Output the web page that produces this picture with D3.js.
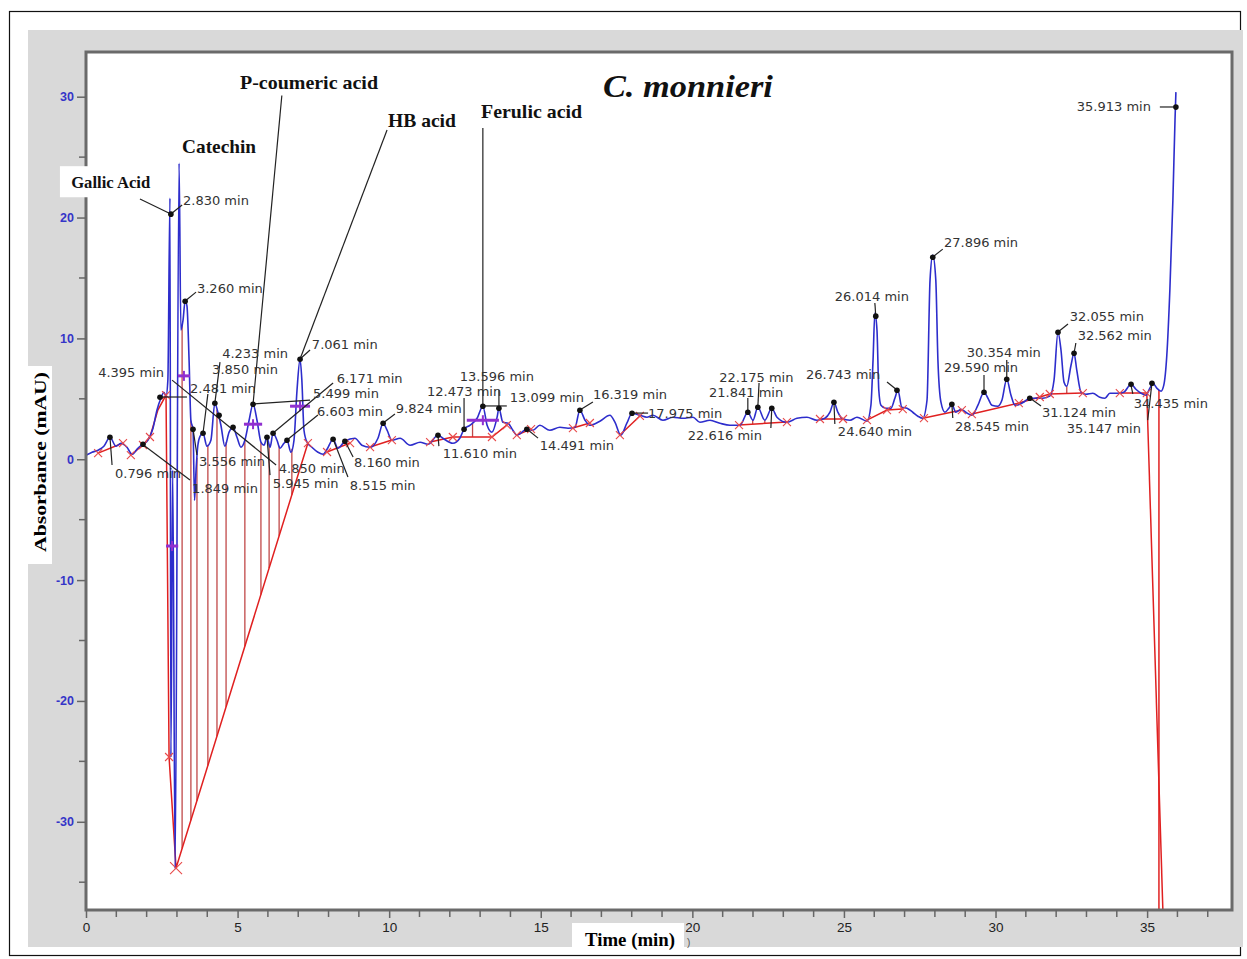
<!DOCTYPE html>
<html><head><meta charset="utf-8">
<script src="https://cdnjs.cloudflare.com/ajax/libs/d3/7.8.5/d3.min.js"></script>
<style>body{margin:0;background:#fff}svg{display:block}</style>
</head><body>
<svg id="chart" width="1247" height="959"></svg>
<script>
// ---------- DATA ----------
const traceTime = [0.00,0.20,0.40,0.59,0.79,0.99,1.15,1.35,1.52,1.71,1.88,2.04,2.21,2.34,2.47,2.57,2.64,2.70,2.77,2.80,2.86,2.94,3.07,3.13,3.20,3.27,3.33,3.40,3.46,3.53,3.58,3.63,3.69,3.76,3.86,3.99,4.12,4.25,4.35,4.45,4.58,4.72,4.85,4.98,5.11,5.24,5.38,5.51,5.64,5.77,5.87,5.97,6.07,6.17,6.30,6.40,6.53,6.63,6.76,6.86,6.96,7.06,7.12,7.19,7.29,7.45,7.65,7.82,7.95,8.15,8.31,8.54,8.87,9.10,9.37,9.63,9.80,9.93,10.09,10.36,10.69,11.02,11.28,11.61,11.77,12.10,12.33,12.47,12.66,12.90,13.09,13.23,13.39,13.56,13.62,13.75,13.92,14.08,14.21,14.54,14.74,14.97,15.30,15.63,15.90,16.13,16.29,16.46,16.62,16.95,17.28,17.45,17.64,17.84,18.01,18.27,18.50,18.70,19.03,19.36,19.69,20.02,20.25,20.58,20.91,21.24,21.57,21.83,22.00,22.16,22.39,22.62,22.79,23.12,23.45,23.78,24.11,24.37,24.54,24.67,24.80,24.93,25.20,25.43,25.76,25.89,25.96,26.02,26.09,26.15,26.22,26.38,26.55,26.68,26.78,26.91,27.08,27.27,27.44,27.60,27.74,27.84,27.93,28.03,28.10,28.20,28.33,28.46,28.56,28.69,28.86,29.02,29.22,29.42,29.62,29.75,29.88,30.08,30.21,30.37,30.51,30.64,30.80,30.97,31.13,31.36,31.56,31.79,31.93,32.06,32.16,32.26,32.35,32.49,32.59,32.68,32.82,32.98,33.21,33.44,33.61,33.77,34.00,34.23,34.47,34.63,34.80,34.96,35.09,35.19,35.32,35.46,35.55,35.65,35.75,35.85,35.92,35.95];
const traceAbs = [0.33,0.58,0.75,1.08,1.82,1.08,1.32,0.99,0.41,0.91,1.24,1.57,2.57,4.06,5.05,5.55,5.22,6.54,21.61,-24.67,-0.9,-33.9,24.5,10.7,11.5,13.1,12.7,8.2,3.2,2.5,-3.4,-0.9,1.16,1.9,2.15,1.08,1.57,4.64,3.89,2.81,1.08,2.24,2.65,1.82,0.99,1.57,3.23,4.55,3.23,1.41,1.16,1.82,0.99,2.15,1.57,0.91,1.32,1.57,0.58,1.57,5.71,8.28,6.54,2.40,1.41,0.99,0.58,0.41,0.83,1.66,0.91,1.49,1.74,1.16,0.99,1.74,2.98,2.40,1.57,1.74,1.16,1.41,1.24,1.99,1.74,1.32,1.74,2.48,2.81,3.39,4.39,2.81,2.24,3.48,4.22,3.06,2.98,2.40,1.99,2.48,2.40,2.81,2.40,2.65,2.57,2.65,4.06,3.23,2.81,3.15,3.64,3.06,1.99,2.98,3.81,3.64,3.48,3.64,3.23,3.48,3.39,3.48,3.06,3.23,2.98,2.81,2.81,3.89,3.23,4.30,3.23,4.22,3.48,3.06,3.39,3.48,3.23,3.39,3.89,4.72,3.89,3.39,3.23,3.48,3.15,4.47,8.20,12.09,10.68,5.71,4.47,4.22,4.22,5.05,5.71,4.30,4.22,3.89,3.56,3.39,4.88,14.82,16.89,14.82,8.20,4.72,3.89,4.22,4.55,3.89,4.14,3.89,3.64,4.47,5.55,5.05,4.47,4.39,4.88,6.62,5.30,4.47,4.55,4.80,5.05,5.05,5.05,5.22,6.54,10.51,9.02,6.37,6.04,7.78,8.77,7.37,5.55,5.38,5.46,5.13,5.05,5.46,5.46,5.55,6.21,5.79,5.46,5.30,5.88,6.29,5.88,5.63,6.13,8.61,13.99,21.44,28.06,30.38];

// peak apex markers (time, absorbance)
const peakTime = [0.79,1.88,2.44,2.80,3.27,3.53,3.86,4.25,4.39,4.85,5.51,5.97,6.17,6.63,7.06,8.15,8.54,9.80,11.61,12.47,13.09,13.62,14.54,16.29,18.01,21.83,22.16,22.62,24.67,26.05,26.75,27.93,28.56,29.62,30.37,31.13,32.06,32.59,34.47,35.16,35.95];
const peakAbs  = [1.82,1.24,5.13,20.28,13.08,2.48,2.15,4.64,3.64,2.65,4.55,1.82,2.15,1.57,8.28,1.66,1.49,2.98,1.99,2.48,4.39,4.22,2.48,4.06,3.81,3.89,4.30,4.22,4.72,11.84,5.71,16.72,4.55,5.55,6.62,5.05,10.51,8.77,6.21,6.29,29.14];

// retention-time labels: text, label anchor (time, absorbance)
const rtText = ["2.830 min","3.260 min","4.233 min","3.850 min","4.395 min","2.481 min","7.061 min","6.171 min","5.499 min","6.603 min","9.824 min","0.796 min","1.849 min","3.556 min","4.850 min","5.945 min","8.160 min","8.515 min","13.596 min","12.473 min","13.099 min","16.319 min","11.610 min","14.491 min","17.975 min","22.175 min","21.841 min","22.616 min","26.743 min","24.640 min","26.014 min","27.896 min","30.354 min","29.590 min","28.545 min","32.055 min","32.562 min","31.124 min","35.147 min","34.435 min","35.913 min"];
const rtAnchorT = [3.20,3.66,4.49,4.16,0.40,3.43,7.45,8.27,7.49,7.62,10.22,0.96,3.50,3.73,6.36,6.16,8.84,8.70,12.33,11.25,13.98,16.72,11.77,14.97,18.54,20.89,20.55,19.85,23.75,24.80,24.70,28.30,29.05,28.30,28.66,32.45,32.71,31.53,32.35,34.56,32.68];
const rtAnchorV = [21.04,13.75,8.37,7.05,6.80,5.48,9.12,6.31,5.07,3.58,3.83,-1.55,-2.79,-0.56,-1.14,-2.38,-0.64,-2.55,6.47,5.23,4.73,4.98,0.10,0.76,3.41,6.39,5.15,1.59,6.64,1.92,13.09,17.56,8.46,7.22,2.33,11.44,9.86,3.50,2.17,4.23,28.81];

// leader lines [t1, v1, t2, v2]
const leaders = [
  [1.78,21.54,2.80,20.29],[2.80,20.29,3.17,21.04],[3.27,13.09,3.63,13.83],
  [6.46,30.10,5.51,4.57],[9.93,27.24,7.06,8.29],[13.09,27.41,13.09,4.41],
  [2.44,5.15,3.33,5.15],[2.84,6.55,6.27,-0.48],[1.85,1.26,3.43,-1.72],
  [0.79,1.84,0.86,-0.48],[4.25,4.65,4.42,8.04],[3.86,2.17,4.02,5.40],
  [3.53,2.50,3.66,0.35],[5.51,4.57,7.39,4.90],[6.17,2.17,8.15,6.31],
  [6.63,1.59,7.65,3.66],[7.06,8.29,7.39,9.04],[5.97,1.84,6.07,-1.31],
  [8.15,1.67,8.64,-1.47],[8.54,1.51,8.81,0.18],[9.80,3.00,10.19,3.74],
  [12.47,2.50,12.47,5.07],[13.09,4.41,13.88,4.41],[13.62,4.24,13.62,5.73],
  [11.61,2.00,11.64,1.09],[14.54,2.50,14.91,1.75],[16.29,4.07,16.72,4.73],
  [18.01,3.82,18.54,3.82],[21.83,3.91,21.83,5.07],[22.16,4.32,22.20,6.31],
  [22.62,4.24,22.59,2.58],[24.67,4.73,24.70,2.92],[26.75,5.73,26.42,6.39],
  [26.05,11.85,26.02,12.93],[27.93,16.74,28.26,17.39],[28.56,4.57,28.59,3.41],
  [29.62,5.56,29.62,6.97],[30.37,6.64,30.37,8.21],[31.13,5.07,31.50,4.40],
  [32.06,10.53,32.39,11.19],[32.59,8.79,32.65,9.62],[34.46,6.22,34.53,5.40],
  [35.16,6.31,35.02,3.24],[35.42,29.15,35.95,29.15]
];

// integration baselines (each a polyline of [time, absorbance])
const baselines = [
  [[0.40,0.51],[1.22,1.34]],
  [[1.48,0.35],[1.88,1.18],[2.11,1.84],[2.37,4.07],[2.64,5.31]],
  [[2.64,5.31],[2.74,-24.64],[2.97,-33.83],[7.32,1.34]],
  [[7.95,0.60],[8.71,1.34]],
  [[9.37,1.01],[10.09,1.59]],
  [[11.35,1.42],[12.10,1.84],[13.39,1.84],[13.88,2.83]],
  [[14.21,2.00],[14.68,2.50]],
  [[16.06,2.58],[16.62,3.00]],
  [[17.61,2.00],[18.27,3.58]],
  [[21.54,2.83],[23.12,3.08]],
  [[24.21,3.33],[24.97,3.33]],
  [[25.76,3.24],[26.42,4.07],[26.94,4.15]],
  [[27.64,3.41],[28.89,4.07]],
  [[29.22,3.74],[30.77,4.65],[31.46,5.15],[31.79,5.40],[32.88,5.48]],
  [[34.10,5.48],[34.99,5.48]],
  [[34.99,5.48],[35.52,-37.3]],
  [[35.39,5.73],[35.39,-37.3]]
];
// baseline markers (x)
const markT = [0.40,1.22,1.48,1.88,2.11,2.64,2.74,2.97,7.32,7.95,8.71,9.37,10.09,11.35,12.10,13.39,13.88,14.21,14.68,16.06,16.62,17.61,18.27,21.54,23.12,24.21,24.97,25.76,26.42,26.94,27.64,28.89,29.22,30.77,31.46,31.79,32.88,34.10,34.99];
const markV = [0.51,1.34,0.35,1.18,1.84,5.31,-24.64,-33.83,1.34,0.60,1.34,1.01,1.59,1.42,1.84,1.84,2.83,2.00,2.50,2.58,3.00,2.00,3.58,2.83,3.08,3.33,3.33,3.24,4.07,4.15,3.41,4.07,3.74,4.65,5.15,5.40,5.48,5.48,5.48];
// peak split drop lines (time, index of baseline polyline)
const dropT = [3.17,3.46,3.66,4.02,4.32,4.62,5.24,5.77,6.04,6.37,6.79,12.75,21.99,22.39,32.35];
const dropBase = [2,2,2,2,2,2,2,2,2,2,2,5,9,9,13];
// purple retention-window markers (time, absorbance, half width in min)
const winT = [3.23,2.84,5.51,7.06,13.09];
const winV = [6.90,-7.18,2.90,4.39,3.23];
const winHalf = [0.2,0.2,0.3,0.33,0.53];

// compound annotations
const compText = ["Gallic Acid","Catechin","P-coumeric  acid","HB acid","Ferulic  acid"];
const compT = [-0.49,3.17,5.08,9.96,13.03];
const compV = [22.44,25.35,30.63,27.49,28.24];
const compLen = [79,74,138,68,101];

const xTicks = [0,5,10,15,20,25,30,35];
const yTicks = [-30,-20,-10,0,10,20,30];

// ---------- LAYOUT ----------
const svg = d3.select("#chart");
const L = 86, R = 1232, T = 52, B = 910;
const x = d3.scaleLinear().domain([0, 37.8]).range([L, R]);
const y = d3.scaleLinear().domain([-37.3, 33.7]).range([B, T]);
const fmt = d => String(d);   // plain hyphen minus, as in the original software

// outer frame & grey panel
svg.append("rect").attr("x",9.5).attr("y",11.5).attr("width",1231).attr("height",944)
  .attr("fill","#fff").attr("stroke","#111").attr("stroke-width",1.2);
svg.append("rect").attr("x",28).attr("y",30).attr("width",1215).attr("height",917).attr("fill","#d9d9d9");
svg.append("rect").attr("x",L).attr("y",T).attr("width",R-L).attr("height",B-T).attr("fill","#fff");

const plot = svg.append("g");
plot.append("clipPath").attr("id","clip").append("rect").attr("x",L).attr("y",T).attr("width",R-L).attr("height",B-T);
const g = plot.append("g").attr("clip-path","url(#clip)");

// drop lines
const interp = (ts, vs, t) => {
  const i = d3.bisectLeft(ts, t);
  if (i <= 0) return vs[0];
  if (i >= ts.length) return vs[vs.length-1];
  const f = (t - ts[i-1]) / (ts[i] - ts[i-1]);
  return vs[i-1] + f * (vs[i] - vs[i-1]);
};
dropT.forEach((t,k) => {
  const bl = baselines[dropBase[k]];
  const bv = interp(bl.map(d=>d[0]), bl.map(d=>d[1]), t);
  const tv = interp(traceTime, traceAbs, t);
  g.append("line").attr("x1",x(t)).attr("x2",x(t)).attr("y1",y(tv)).attr("y2",y(bv))
    .attr("stroke","#c04848").attr("stroke-width",1.3);
});

// baselines
const bline = d3.line().x(d=>x(d[0])).y(d=>y(d[1]));
baselines.forEach(b => g.append("path").attr("d", bline(b)).attr("fill","none")
  .attr("stroke","#e02020").attr("stroke-width",1.5));

// trace
const tr = traceTime.map((t,i)=>[t, traceAbs[i]]);
g.append("path").attr("d", d3.line().x(d=>x(d[0])).y(d=>y(d[1])).curve(d3.curveMonotoneX)(tr))
  .attr("fill","none").attr("stroke","#2d2dcc").attr("stroke-width",1.6).attr("stroke-linejoin","round");

// baseline x marks
markT.forEach((t,i)=>{
  const cx = x(t), cy = y(markV[i]), s = (i===7)?6:4;
  g.append("path").attr("d",`M${cx-s},${cy-s}L${cx+s},${cy+s}M${cx-s},${cy+s}L${cx+s},${cy-s}`)
    .attr("stroke","#e84a4a").attr("stroke-width",1.1);
});

// purple windows
winT.forEach((t,i)=>{
  const cy = y(winV[i]);
  g.append("line").attr("x1",x(t-winHalf[i])).attr("x2",x(t+winHalf[i])).attr("y1",cy).attr("y2",cy)
    .attr("stroke","#9030d0").attr("stroke-width",3);
  g.append("line").attr("x1",x(t)).attr("x2",x(t)).attr("y1",cy-5).attr("y2",cy+5)
    .attr("stroke","#9030d0").attr("stroke-width",2);
});

// leaders
leaders.forEach(l => svg.append("line").attr("x1",x(l[0])).attr("y1",y(l[1])).attr("x2",x(l[2])).attr("y2",y(l[3]))
  .attr("stroke","#222").attr("stroke-width",1.2));

// peak dots
peakTime.forEach((t,i)=> svg.append("circle").attr("cx",x(t)).attr("cy",y(peakAbs[i])).attr("r",2.8).attr("fill","#111"));

// rt labels
rtText.forEach((s,i)=> svg.append("text").attr("x",x(rtAnchorT[i])).attr("y",y(rtAnchorV[i]))
  .attr("font-family","DejaVu Sans, Verdana, sans-serif").attr("font-size",13).attr("fill","#333").text(s));

// frame of plot area
svg.append("rect").attr("x",L).attr("y",T).attr("width",R-L).attr("height",B-T)
  .attr("fill","none").attr("stroke","#6a6a6a").attr("stroke-width",3);

// Y axis
const yAxis = svg.append("g").attr("transform",`translate(${L},0)`)
  .call(d3.axisLeft(y).tickValues(yTicks).tickSize(9).tickPadding(3).tickFormat(fmt));
yAxis.select(".domain").remove();
yAxis.selectAll(".tick line").attr("stroke","#666").attr("stroke-width",1.5);
yAxis.selectAll(".tick text").attr("fill","#3535c8").attr("font-weight","bold")
  .attr("font-family","Liberation Sans, Arial, sans-serif").attr("font-size",12.5);
const yMinor = d3.range(-35, 35, 5).filter(v=>!yTicks.includes(v));
svg.append("g").selectAll("line").data(yMinor).join("line")
  .attr("x1",L-7).attr("x2",L).attr("y1",d=>y(d)).attr("y2",d=>y(d)).attr("stroke","#666").attr("stroke-width",1.5);

// X axis
const xAxis = svg.append("g").attr("transform",`translate(0,${B})`)
  .call(d3.axisBottom(x).tickValues(xTicks).tickSize(8).tickPadding(4).tickFormat(fmt));
xAxis.select(".domain").remove();
xAxis.selectAll(".tick line").attr("stroke","#666").attr("stroke-width",1.5);
xAxis.selectAll(".tick text").attr("fill","#222")
  .attr("font-family","Liberation Sans Narrow, Arial Narrow, sans-serif").attr("font-size",13.5);
const xMinor = d3.range(1, 38, 1).filter(v=>!xTicks.includes(v));
svg.append("g").selectAll("line").data(xMinor).join("line")
  .attr("x1",d=>x(d)).attr("x2",d=>x(d)).attr("y1",B).attr("y2",B+7).attr("stroke","#666").attr("stroke-width",1.5);

// axis titles
svg.append("rect").attr("x",28).attr("y",366).attr("width",24).attr("height",198).attr("fill","#fff");
svg.append("text").attr("transform","translate(46,462) rotate(-90)").attr("text-anchor","middle")
  .attr("font-family","Liberation Serif, Times New Roman, serif").attr("font-weight","bold").attr("font-size",17)
  .attr("textLength",180).attr("lengthAdjust","spacingAndGlyphs").text("Absorbance (mAU)");
svg.append("rect").attr("x",572).attr("y",923).attr("width",112).attr("height",29).attr("fill","#fff");
svg.append("text").attr("x",585).attr("y",946)
  .attr("font-family","Liberation Serif, Times New Roman, serif").attr("font-weight","bold").attr("font-size",18)
  .attr("textLength",90).attr("lengthAdjust","spacingAndGlyphs").text("Time (min)");
svg.append("text").attr("x",687).attr("y",946).attr("font-family","Liberation Sans Narrow, sans-serif")
  .attr("font-size",10).attr("fill","#555").text(")");

// compound labels
svg.append("rect").attr("x",x(-0.86)).attr("y",y(24.25)).attr("width",x(2.37)-x(-0.86)).attr("height",y(21.68)-y(24.25)).attr("fill","#fff");
compText.forEach((s,i)=> svg.append("text").attr("x",x(compT[i])).attr("y",y(compV[i]))
  .attr("font-family","Liberation Serif, Times New Roman, serif").attr("font-weight","bold")
  .attr("font-size", i===0?17:19).attr("fill","#111")
  .attr("textLength",compLen[i]).attr("lengthAdjust","spacingAndGlyphs").text(s));

// title
svg.append("text").attr("x",x(17.05)).attr("y",y(29.98))
  .attr("font-family","Liberation Serif, Times New Roman, serif").attr("font-weight","bold").attr("font-style","italic")
  .attr("font-size",31).attr("fill","#111").attr("textLength",170).attr("lengthAdjust","spacingAndGlyphs").text("C. monnieri");
</script>
</body></html>
